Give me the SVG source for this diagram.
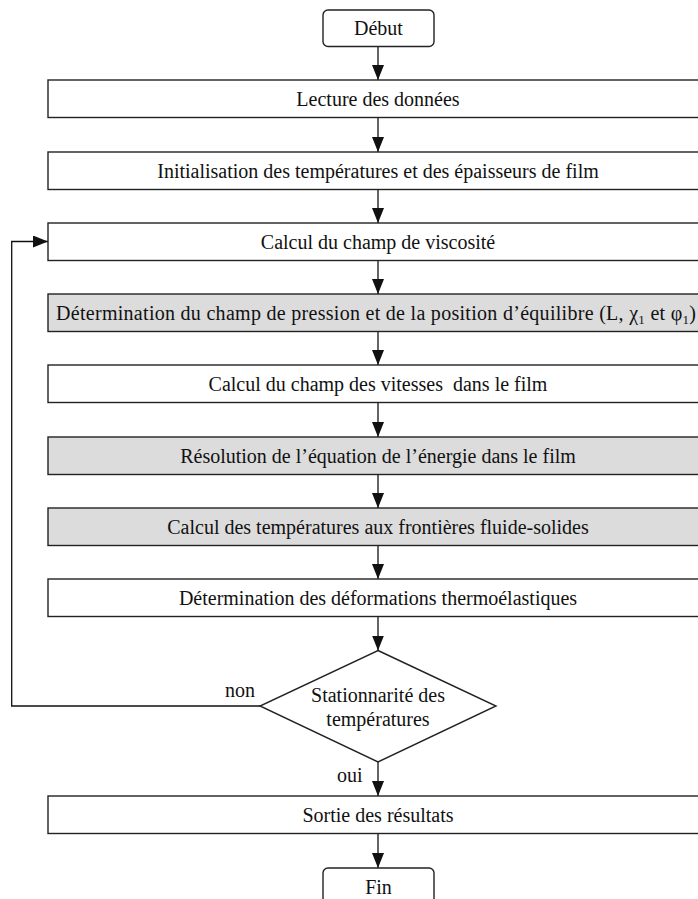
<svg xmlns="http://www.w3.org/2000/svg" width="698" height="899" viewBox="0 0 698 899">
<style>
.box{fill:#ffffff;stroke:#222;stroke-width:1.4}
.grey{fill:#dcdcdc;stroke:#222;stroke-width:1.4}
.t{font-family:"Liberation Serif","Times New Roman",serif;font-size:20px;fill:#111;text-anchor:middle;white-space:pre}
.lbl{font-family:"Liberation Serif","Times New Roman",serif;font-size:20px;fill:#111}
.c{fill:none;stroke:#111;stroke-width:1.3}
</style>
<defs>
<marker id="ah" viewBox="0 0 15 12" refX="15" refY="6" markerWidth="15" markerHeight="12" markerUnits="userSpaceOnUse" orient="auto">
<path d="M0,0 L15,6 L0,12 Z" fill="#111"/>
</marker>
</defs>
<rect x="0" y="0" width="698" height="899" fill="#ffffff"/>
<g id="connectors">
<line class="c" x1="378" y1="46.5" x2="378" y2="80" marker-end="url(#ah)"/>
<line class="c" x1="378" y1="117.5" x2="378" y2="152" marker-end="url(#ah)"/>
<line class="c" x1="378" y1="189.5" x2="378" y2="223" marker-end="url(#ah)"/>
<line class="c" x1="378" y1="260.5" x2="378" y2="294" marker-end="url(#ah)"/>
<line class="c" x1="378" y1="331.5" x2="378" y2="365" marker-end="url(#ah)"/>
<line class="c" x1="378" y1="402.5" x2="378" y2="437" marker-end="url(#ah)"/>
<line class="c" x1="378" y1="474.5" x2="378" y2="508" marker-end="url(#ah)"/>
<line class="c" x1="378" y1="545.5" x2="378" y2="579" marker-end="url(#ah)"/>
<line class="c" x1="378" y1="616.5" x2="378" y2="650.5" marker-end="url(#ah)"/>
<line class="c" x1="378" y1="762" x2="378" y2="796" marker-end="url(#ah)"/>
<line class="c" x1="378" y1="833.5" x2="378" y2="868" marker-end="url(#ah)"/>
<path class="c" d="M260,706 H11.7 V241.5 H48" marker-end="url(#ah)"/>
<text class="lbl" x="225" y="697">non</text>
<text class="lbl" x="337" y="782">oui</text>
</g>
<g id="debut">
<rect class="box" x="323" y="10" width="111" height="36.5" rx="5"/>
<text class="t" x="378.5" y="35">Début</text>
</g>
<g id="lecture">
<rect class="box" x="48" y="80" width="660" height="37.5"/>
<text class="t" x="378" y="105.5">Lecture des données</text>
</g>
<g id="init">
<rect class="box" x="48" y="152" width="660" height="37.5"/>
<text class="t" x="378" y="177.5">Initialisation des températures et des épaisseurs de film</text>
</g>
<g id="viscosite">
<rect class="box" x="48" y="223" width="660" height="37.5"/>
<text class="t" x="378" y="248.5">Calcul du champ de viscosité</text>
</g>
<g id="pression">
<rect class="grey" x="48" y="294" width="660" height="37.5"/>
<text class="t" x="56" y="319.5" style="text-anchor:start" textLength="640" lengthAdjust="spacing">Détermination du champ de pression et de la position d’équilibre (L, χ<tspan font-size="13" dy="4">1</tspan><tspan dy="-4"> et φ</tspan><tspan font-size="13" dy="4">1</tspan><tspan dy="-4">)</tspan></text>
</g>
<g id="vitesses">
<rect class="box" x="48" y="365" width="660" height="37.5"/>
<text class="t" x="378" y="390.5">Calcul du champ des vitesses  dans le film</text>
</g>
<g id="energie">
<rect class="grey" x="48" y="437" width="660" height="37.5"/>
<text class="t" x="378" y="462.5">Résolution de l’équation de l’énergie dans le film</text>
</g>
<g id="frontieres">
<rect class="grey" x="48" y="508" width="660" height="37.5"/>
<text class="t" x="378" y="533.5">Calcul des températures aux frontières fluide-solides</text>
</g>
<g id="deformations">
<rect class="box" x="48" y="579" width="660" height="37.5"/>
<text class="t" x="378" y="604.5">Détermination des déformations thermoélastiques</text>
</g>
<g id="stationnarite">
<path class="box" d="M378,650.5 L496,706 L378,762 L260,706 Z"/>
<text class="t" x="378" y="702">Stationnarité des</text>
<text class="t" x="378" y="726">températures</text>
</g>
<g id="sortie">
<rect class="box" x="48" y="796" width="660" height="37.5"/>
<text class="t" x="378" y="821.5">Sortie des résultats</text>
</g>
<g id="fin">
<rect class="box" x="323" y="868" width="111" height="42" rx="5"/>
<text class="t" x="378.5" y="894">Fin</text>
</g>
</svg>
